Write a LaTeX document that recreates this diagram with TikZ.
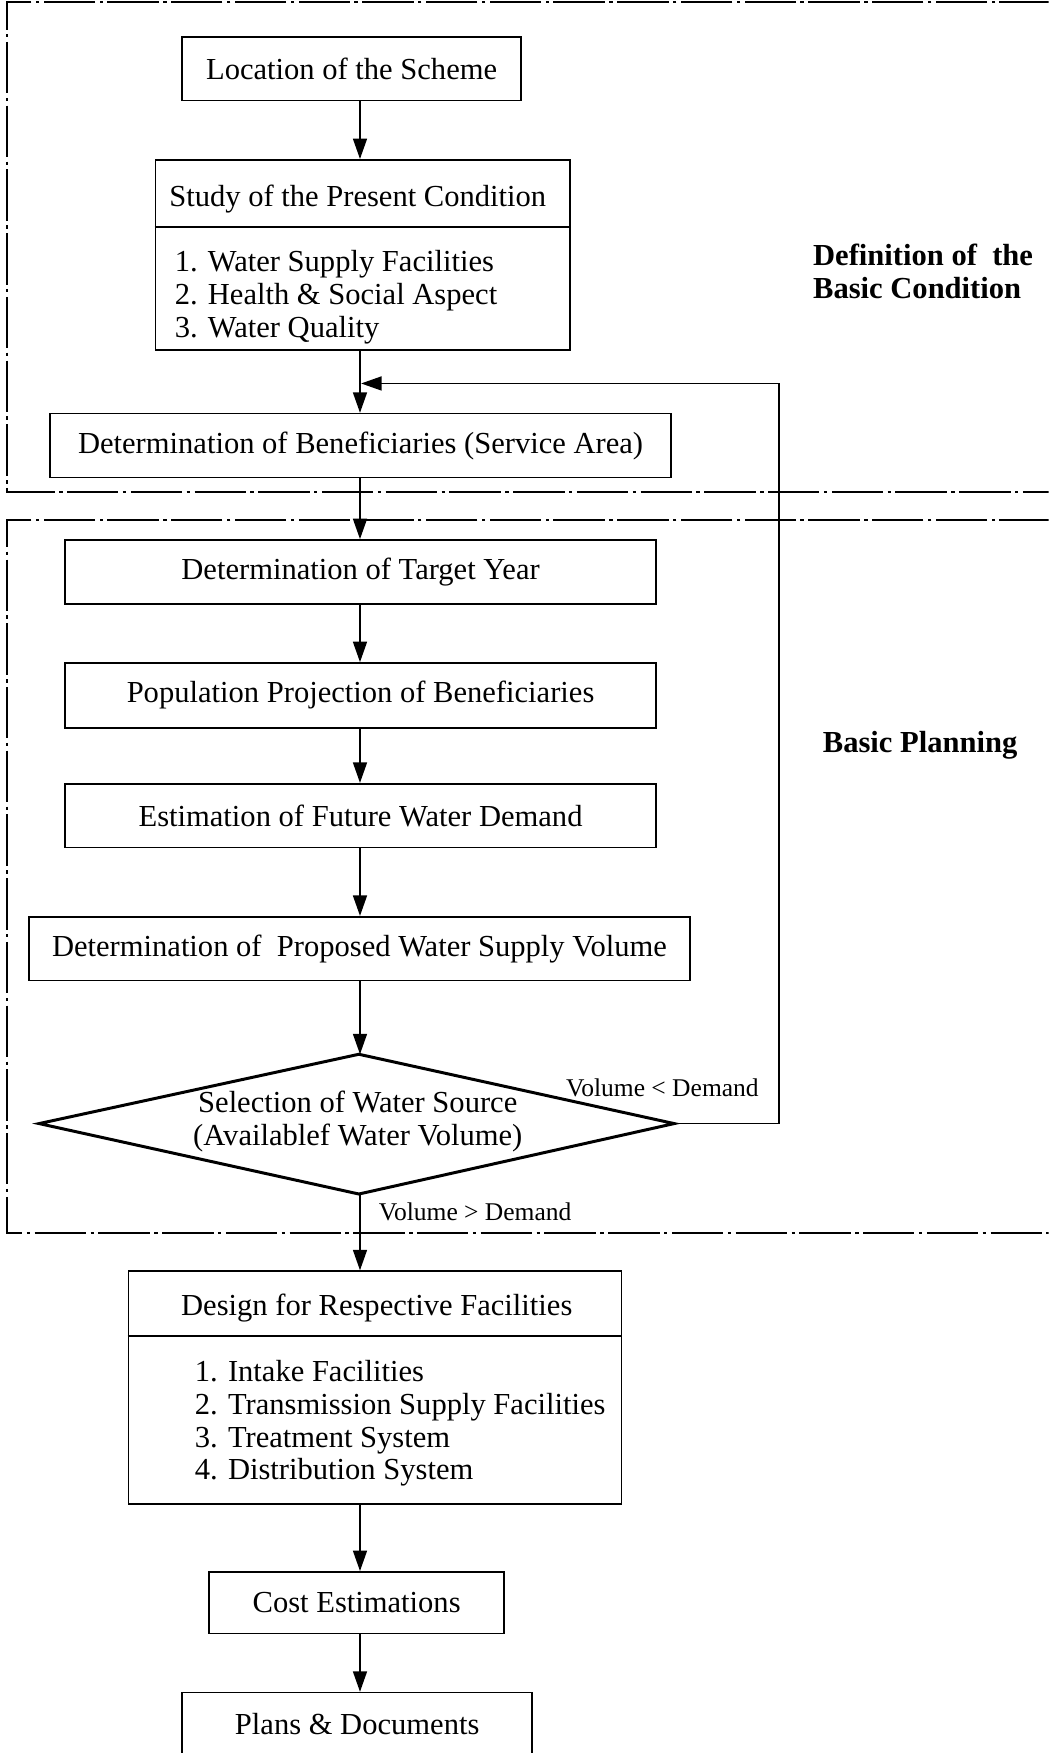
\documentclass[tikz,border=0pt]{standalone}
\usepackage{fontspec}
\setmainfont{Liberation Serif}
\usetikzlibrary{arrows.meta}
\begin{document}
\begin{tikzpicture}[x=0.6pt,y=-0.6pt,
  sz/.style 2 args={minimum width=#1*0.6pt,minimum height=#2*0.6pt},
  box/.style={draw,line width=0.9pt,inner sep=0pt,font=\fontsize{16.4}{17.7}\selectfont},
  txt/.style={inner sep=0pt,font=\fontsize{16.4}{17.7}\selectfont},
  lbl/.style={inner sep=0pt,font=\fontsize{13.7}{15}\selectfont},
  side/.style={inner sep=0pt,font=\fontsize{16.4}{17.7}\selectfont\bfseries,align=left},
  arr/.style={line width=0.9pt,-{Triangle[length=11pt,width=7.5pt]}},
  frameline/.style={line width=1pt,dash pattern=on 27.6pt off 2.4pt on 1.8pt off 2.4pt}
]
\useasboundingbox (0,0) rectangle (938,1568);
\clip (0,0) rectangle (938,1568);
\fill[white] (0,0) rectangle (938,1568);

% frames
\draw[frameline] (940,2) -- (6.5,2) -- (6.5,440) -- (940,440);
\draw[frameline] (940,465) -- (6.5,465) -- (6.5,1103) -- (940,1103);

% side labels
\node[side,anchor=west] (sideA) at (727,242.5) {Definition of~ the\\Basic Condition};
\node[side] (sideB) at (823,667) {Basic Planning};

\coordinate (col) at (322,0);

% boxes
\node[box,sz={303}{57}] (loc) at (314.5,61.5) {Location of the Scheme};
\node[box,sz={371}{170}] (study) at (324.5,228) {};
\node[txt] (studyT) at (320,178) {Study of the Present Condition};
\draw[line width=0.9pt] (study.west |- 0,203) -- (study.east |- 0,203);
\node[txt,align=left,anchor=west] (studyL) at (156,266) {1. Water Supply Facilities\\2. Health \& Social Aspect\\3. Water Quality};
\node[box,sz={555}{57}] (ben) at (322.5,398.5) {Determination of Beneficiaries (Service Area)};
\node[box,sz={529}{57}] (tgt) at (322.5,511.5) {Determination of Target Year};
\node[box,sz={529}{58}] (pop) at (322.5,622) {Population Projection of Beneficiaries};
\node[box,sz={529}{57}] (est) at (322.5,729.5) {Estimation of Future Water Demand};
\node[box,sz={591}{57}] (prop) at (321.5,848.5) {Determination of~ Proposed Water Supply Volume};

% decision
\coordinate (dT) at (321,943);
\coordinate (dR) at (603,1005);
\coordinate (dB) at (321,1068);
\coordinate (dL) at (35,1005);
\draw[line width=1.6pt,line join=miter] (dT) -- (dR) -- (dB) -- (dL) -- cycle;
\node[txt,align=center] (diaT) at (320,1003.5) {Selection of Water Source\\(Availablef Water Volume)};
\node[lbl] (lblLess) at (592.5,973) {Volume < Demand};
\node[lbl] (lblMore) at (425,1084) {Volume > Demand};

\node[box,sz={441}{208}] (des) at (335.5,1241) {};
\node[txt] (desT) at (337,1170) {Design for Respective Facilities};
\draw[line width=0.9pt] (des.west |- 0,1195) -- (des.east |- 0,1195);
\node[txt,align=left,anchor=west] (desL) at (174,1273) {1. Intake Facilities\\2. Transmission Supply Facilities\\3. Treatment System\\4. Distribution System};
\node[box,sz={264}{55}] (cost) at (319,1433.5) {Cost Estimations};
\node[box,sz={313}{56}] (plans) at (319.5,1542) {Plans \& Documents};

% connectors
\draw[arr] (loc.south -| col) -- (study.north -| col);
\draw[arr] (study.south -| col) -- (ben.north -| col);
\draw[arr] (ben.south -| col) -- (tgt.north -| col);
\draw[arr] (tgt.south -| col) -- (pop.north -| col);
\draw[arr] (pop.south -| col) -- (est.north -| col);
\draw[arr] (est.south -| col) -- (prop.north -| col);
\draw[arr] (prop.south -| col) -- (dT -| col);
\draw[arr] (dB -| col) -- (des.north -| col);
\draw[arr] (des.south -| col) -- (cost.north -| col);
\draw[arr] (cost.south -| col) -- (plans.north -| col);

\coordinate (fbC) at (697,343);
\coordinate (fbE) at (323,343);
\draw[arr] (dR) -| (fbC) -- (fbE);
\end{tikzpicture}
\end{document}
